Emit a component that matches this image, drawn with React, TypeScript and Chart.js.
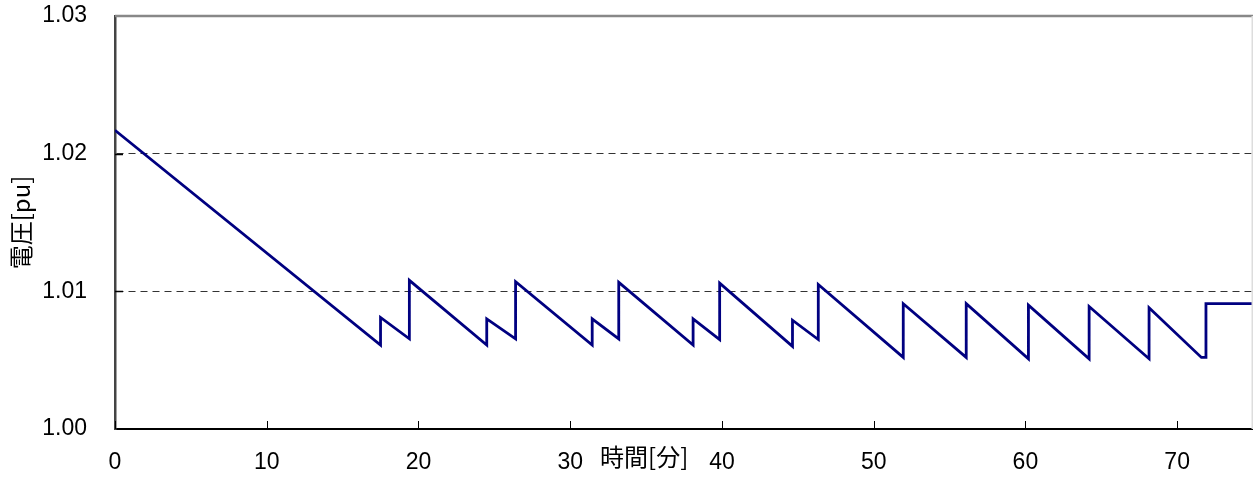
import React, { useEffect, useRef } from "react";
import { Chart, registerables } from "chart.js";

Chart.register(...registerables);

// Time [min] and voltage [pu]
const timeMin: number[] = [
  0, 17.5, 17.5, 19.4, 19.4, 24.5, 24.5, 26.4, 26.4, 31.45, 31.45, 33.2, 33.2,
  38.1, 38.1, 39.85, 39.85, 44.65, 44.65, 46.35, 46.35, 51.95, 51.95, 56.1, 56.1,
  60.2, 60.2, 64.2, 64.2, 68.15, 68.15, 71.6, 71.9, 71.9, 75,
];
const voltagePu: number[] = [
  1.0217, 1.0061, 1.0081, 1.00655, 1.0108, 1.0061, 1.008, 1.00655, 1.0107, 1.0061,
  1.008, 1.00655, 1.01065, 1.0061, 1.008, 1.0065, 1.0106, 1.006, 1.0079, 1.0065,
  1.0105, 1.0052, 1.0091, 1.0052, 1.0091, 1.0051, 1.009, 1.0051, 1.0089, 1.0051,
  1.0088, 1.0052, 1.0052, 1.0091, 1.0091,
];
const xTicks: number[] = [0, 10, 20, 30, 40, 50, 60, 70];
const yTicks: number[] = [1.0, 1.01, 1.02, 1.03];
const xTitle = "時間[分]";
const yTitle = "電圧[pu]";

const W = 1253;
const H = 482;
const NUM_FONT = '"Liberation Sans", Arial, sans-serif';
const JP_FONT = '"Noto Sans CJK JP", sans-serif';

const framePlugin = {
  id: "frame",
  afterDraw(chart: any) {
    const { ctx, chartArea, scales } = chart;
    const { left, right, top, bottom } = chartArea;
    const line = (x1: number, y1: number, x2: number, y2: number) => {
      ctx.beginPath();
      ctx.moveTo(x1, y1);
      ctx.lineTo(x2, y2);
      ctx.stroke();
    };
    ctx.save();
    ctx.strokeStyle = "#888";
    ctx.lineWidth = 2.5;
    line(left, top, right, top);
    ctx.strokeStyle = "#ddd";
    ctx.lineWidth = 1.5;
    line(right - 0.75, top, right - 0.75, bottom);
    ctx.strokeStyle = "#000";
    ctx.lineWidth = 1;
    scales.x.ticks.forEach((t: any) => {
      const px = Math.round(scales.x.getPixelForValue(t.value)) + 0.5;
      line(px, bottom, px, bottom - 8);
    });
    scales.y.ticks.forEach((t: any) => {
      if (t.value <= yTicks[0] || t.value >= yTicks[yTicks.length - 1]) return;
      const py = Math.round(scales.y.getPixelForValue(t.value)) + 0.5;
      ctx.lineWidth = 1.5;
      line(left, py, left + 8, py);
    });
    ctx.fillStyle = "#000";
    ctx.font = `24px ${JP_FONT}`;
    ctx.textAlign = "center";
    ctx.textBaseline = "middle";
    ctx.fillText(xTitle, left + (right - left) * 0.465, 457);
    ctx.translate(21, (top + bottom) / 2);
    ctx.rotate(-Math.PI / 2);
    ctx.fillText(yTitle, 0, 0);
    ctx.restore();
  },
};

export default function App() {
  const ref = useRef<HTMLCanvasElement | null>(null);
  useEffect(() => {
    document.body.style.margin = "0";
    if (!ref.current) return;
    const data = timeMin.map((t, i) => ({ x: t, y: voltagePu[i] }));
    const chart = new Chart(ref.current, {
      type: "line",
      data: {
        datasets: [
          {
            data,
            borderColor: "#000080",
            borderWidth: 2.8,
            pointRadius: 0,
            tension: 0,
            fill: false,
          },
        ],
      },
      options: {
        animation: false,
        responsive: false,
        devicePixelRatio: 1,
        layout: { padding: { top: 16, right: 0, left: 0, bottom: 0 } },
        plugins: { legend: { display: false }, tooltip: { enabled: false } },
        scales: {
          x: {
            type: "linear",
            min: 0,
            max: 75,
            afterFit: (s: any) => {
              s.height = 53;
              s.paddingLeft = 0;
              s.paddingRight = 0;
            },
            afterBuildTicks: (s: any) => {
              s.ticks = xTicks.map((v) => ({ value: v }));
            },
            ticks: {
              includeBounds: false,
              padding: 20,
              color: "#000",
              font: { family: NUM_FONT, size: 23 },
              maxRotation: 0,
              autoSkip: false,
            },
            grid: { display: false, drawTicks: false },
            border: { display: true, color: "#000", width: 2 },
          },
          y: {
            type: "linear",
            min: 1.0,
            max: 1.03,
            afterFit: (s: any) => {
              s.width = 115;
              s.paddingTop = 0;
              s.paddingBottom = 0;
            },
            afterBuildTicks: (s: any) => {
              s.ticks = yTicks.map((v) => ({ value: v }));
            },
            ticks: {
              padding: 28,
              color: "#000",
              font: { family: NUM_FONT, size: 23 },
              callback: (v: any) => Number(v).toFixed(2),
            },
            grid: {
              drawTicks: false,
              lineWidth: 1,
              color: (c: any) => {
                const v = c.tick ? c.tick.value : 0;
                return Math.abs(v - 1.01) < 1e-6 || Math.abs(v - 1.02) < 1e-6
                  ? "#333"
                  : "rgba(0,0,0,0)";
              },
            },
            border: { display: true, color: "#444", width: 2.5, dash: [7, 5] },
          },
        },
      },
      plugins: [framePlugin],
    });
    return () => chart.destroy();
  }, []);
  return (
    <div style={{ width: W, height: H, background: "#fff" }}>
      <canvas ref={ref} width={W} height={H} style={{ display: "block" }} />
    </div>
  );
}
